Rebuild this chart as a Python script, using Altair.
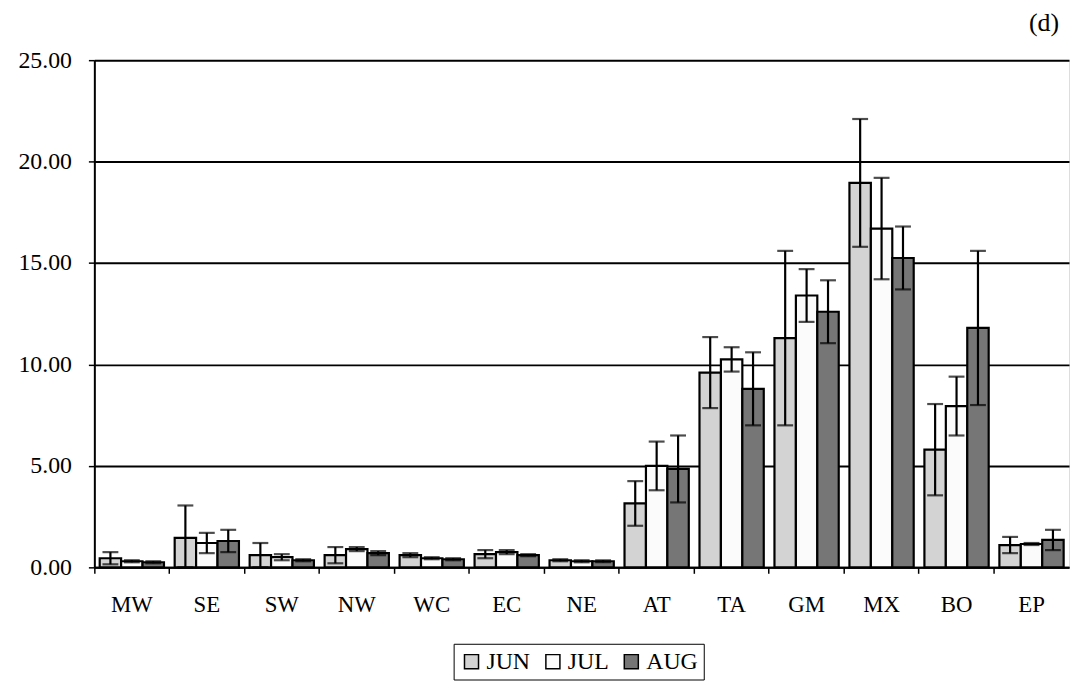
import altair as alt
import pandas as pd

categories = ["MW", "SE", "SW", "NW", "WC", "EC", "NE", "AT", "TA", "GM", "MX", "BO", "EP"]
months = ["JUN", "JUL", "AUG"]

jun = [0.45, 1.45, 0.60, 0.60, 0.60, 0.65, 0.35, 3.15, 9.60, 11.30, 18.95, 5.80, 1.10]
jun_err = [0.30, 1.60, 0.60, 0.40, 0.10, 0.20, 0.05, 1.10, 1.75, 4.30, 3.15, 2.25, 0.40]
jul = [0.30, 1.20, 0.50, 0.90, 0.45, 0.75, 0.30, 5.00, 10.25, 13.40, 16.70, 7.95, 1.15]
jul_err = [0.05, 0.50, 0.15, 0.10, 0.05, 0.10, 0.05, 1.20, 0.60, 1.30, 2.50, 1.45, 0.05]
aug = [0.25, 1.30, 0.35, 0.70, 0.40, 0.60, 0.30, 4.85, 8.80, 12.60, 15.25, 11.80, 1.35]
aug_err = [0.05, 0.55, 0.05, 0.10, 0.05, 0.05, 0.05, 1.65, 1.80, 1.55, 1.55, 3.80, 0.50]

y_ticks = [0, 5, 10, 15, 20, 25]
fills = ["#d3d3d3", "#fbfbfb", "#767676"]

rows = []
for m, vals, errs in [("JUN", jun, jun_err), ("JUL", jul, jul_err), ("AUG", aug, aug_err)]:
    for c, v, e in zip(categories, vals, errs):
        rows.append({"region": c, "month": m, "value": v,
                     "lo": max(0.0, v - e), "hi": v + e})
df = pd.DataFrame(rows)

FONT = "Liberation Serif"

x_enc = alt.X("region:N", sort=categories,
              scale=alt.Scale(paddingInner=0, paddingOuter=0),
              axis=alt.Axis(title=None, labelAngle=0, bandPosition=0,
                            labelFont=FONT, labelFontSize=23, labelColor="black",
                            labelPadding=20, tickSize=6, tickColor="black", tickWidth=1.5,
                            domainColor="black", domainWidth=2, grid=False))
xo_enc = alt.XOffset("month:N", sort=months,
                     scale=alt.Scale(paddingInner=0, paddingOuter=0.25))

base = alt.Chart(df)

bars = base.mark_bar(stroke="black", strokeWidth=2.2).encode(
    x=x_enc,
    xOffset=xo_enc,
    y=alt.Y("value:Q",
            scale=alt.Scale(domain=[0, 25], nice=False, zero=True),
            axis=alt.Axis(title=None, values=y_ticks, format=".2f",
                          labelFont=FONT, labelFontSize=24, labelColor="black",
                          labelPadding=17, tickSize=6, tickColor="black", tickWidth=1.5,
                          domainColor="black", domainWidth=2,
                          grid=True, gridColor="black", gridWidth=2)),
    color=alt.Color("month:N", sort=months,
                    scale=alt.Scale(domain=months, range=fills),
                    legend=alt.Legend(title=None, orient="none", legendX=362, legendY=588,
                                      direction="horizontal",
                                      strokeColor="black", padding=6,
                                      symbolType="square", symbolSize=200,
                                      symbolStrokeColor="black", symbolStrokeWidth=1.5,
                                      labelFont=FONT, labelFontSize=24, labelColor="black",
                                      labelOffset=3, columnPadding=10)),
)

err_rule = base.mark_rule(color="black", strokeWidth=2.2).encode(
    x=alt.X("region:N", sort=categories),
    xOffset=alt.XOffset("month:N", sort=months),
    y="lo:Q",
    y2="hi:Q",
)

cap_hi = base.mark_tick(color="black", thickness=2.2, size=16).encode(
    x=alt.X("region:N", sort=categories),
    xOffset=alt.XOffset("month:N", sort=months),
    y="hi:Q",
)

cap_lo = base.mark_tick(color="black", thickness=2.2, size=16).encode(
    x=alt.X("region:N", sort=categories),
    xOffset=alt.XOffset("month:N", sort=months),
    y="lo:Q",
)

chart = alt.layer(bars, err_rule, cap_hi, cap_lo).properties(
    width=982,
    height=511,
    autosize=alt.AutoSizeParams(type="none"),
    padding={"left": 87, "top": 50, "right": 1, "bottom": 120},
    title=alt.Title("(d)", anchor="end", offset=12, dx=-10, font=FONT, fontSize=26,
                    fontWeight="normal", color="black"),
).configure_view(
    stroke="black", strokeWidth=2
).configure(
    background="white"
)

chart.save("out.html", embed_options={"renderer": "svg", "actions": False})
